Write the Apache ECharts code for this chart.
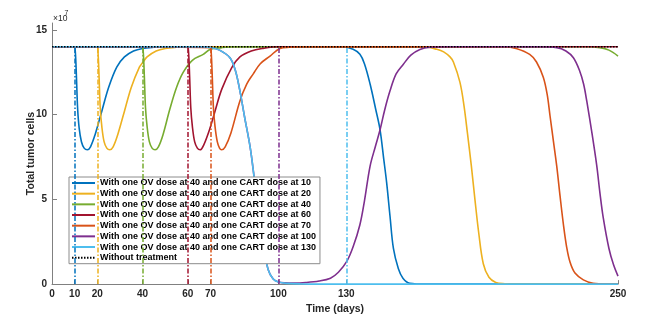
<!DOCTYPE html>
<html>
<head>
<meta charset="utf-8">
<script src="https://cdn.jsdelivr.net/npm/echarts@6/dist/echarts.min.js"></script>
<style>
  html, body { margin: 0; padding: 0; background: #fff; }
  #chart { width: 654px; height: 320px; }
</style>
</head>
<body>
<div id="chart"></div>
<script>
// values in units of 1e7 cells, x in days
var doseDays = [10, 20, 40, 60, 70, 100, 130]
var xTicks = [0, 10, 20, 40, 60, 70, 100, 130, 250]
var yTicks = [0, 5, 10, 15]

var cart10 = [[0, 14], [9.8, 14], [10.3, 13.7], [10.8, 12.2], [11.3, 10.4], [12, 9.2], [13, 8.4], [14.2, 8.02], [15.6, 7.92], [17, 8.1], [19, 8.8], [22, 10.2], [25, 11.6], [28.6, 12.8], [32, 13.4], [36, 13.75], [40, 13.9], [45, 13.97], [50, 14], [128, 14], [133, 13.85], [136, 13.55], [138, 13.0], [140.5, 11.8], [143, 10.3], [144.9, 9.1], [146.5, 7.4], [147.8, 6.0], [149.3, 4.0], [150.8, 2.1], [153, 0.9], [155, 0.35], [158, 0.05], [165, 0], [250, 0]]
var cart20 = [[0, 14], [19.8, 14], [20.3, 13.7], [20.8, 12.2], [21.3, 10.4], [22, 9.3], [23, 8.4], [24.2, 8.02], [25.5, 7.92], [27, 8.1], [29, 8.8], [32, 10.2], [35, 11.6], [38.6, 12.8], [40, 13.05], [42, 13.4], [46, 13.75], [50, 13.9], [55, 13.97], [60, 14], [164, 14], [170, 13.85], [173, 13.7], [175.8, 13.4], [177.3, 13.1], [180.2, 11.9], [182, 10.5], [183.5, 8.9], [185.2, 7.0], [186.8, 5.0], [188.5, 3.0], [190.5, 1.2], [193, 0.4], [196, 0.1], [200, 0.02], [205, 0], [250, 0]]
var cart40 = [[0, 14], [39.8, 14], [40.3, 13.7], [40.8, 12.2], [41.3, 10.4], [42, 9.3], [43, 8.4], [44.2, 8.02], [45.5, 7.92], [47, 8.1], [49, 8.8], [52, 10.3], [55, 11.6], [58, 12.5], [62, 13.2], [66.8, 13.55], [70, 13.85], [75, 13.95], [80, 14], [236, 14], [242, 13.95], [246, 13.8], [250, 13.45]]
var cart60 = [[0, 14], [59.8, 14], [60.3, 13.7], [60.8, 12.2], [61.3, 10.4], [62, 9.3], [63, 8.4], [64.2, 8.02], [65.4, 7.92], [67, 8.2], [69.8, 9.2], [72, 10.2], [75, 11.5], [79.4, 12.77], [83, 13.4], [88, 13.75], [93, 13.9], [100, 14], [250, 14]]
var cart70 = [[0, 14], [69.9, 13.95], [70.3, 13.7], [70.8, 12.2], [71.3, 10.4], [72, 9.3], [73, 8.4], [74, 8.02], [74.9, 7.92], [76.5, 8.1], [79, 8.9], [83, 10.8], [86, 11.8], [88.9, 12.4], [92, 13.0], [96.3, 13.45], [100.7, 13.9], [105, 13.97], [110, 14], [200, 14], [205, 13.9], [211, 13.55], [214, 13.1], [217, 12.2], [218.7, 11.2], [220, 9.9], [221.5, 8.4], [222.9, 7.0], [224.4, 5.2], [225.9, 3.5], [227.3, 2.2], [228.8, 1.3], [231, 0.65], [234.7, 0.25], [239, 0.05], [245, 0], [250, 0]]
var cart100 = [[0, 14], [66, 14], [70, 13.95], [74, 13.8], [78.6, 13.35], [81, 12.6], [83, 11.4], [85, 9.9], [87.5, 8.1], [89, 6.6], [91, 4.3], [93, 2.4], [95.5, 0.85], [97.7, 0.3], [100, 0.12], [103, 0.07], [107, 0.06], [112, 0.09], [118, 0.18], [123, 0.35], [126.5, 0.7], [130.2, 1.34], [133, 2.2], [136, 3.5], [138, 4.9], [140.5, 6.96], [142.8, 8.1], [144.9, 9.1], [147, 10.3], [149.3, 11.4], [152, 12.4], [155.2, 12.97], [158.5, 13.5], [162.5, 13.84], [167, 13.97], [175, 14], [215, 14], [223, 13.95], [227, 13.75], [230.3, 13.35], [233, 12.6], [234.8, 11.8], [236.2, 10.8], [238.5, 8.9], [240.6, 7.0], [242, 5.4], [243.5, 3.9], [246, 2.1], [248, 1.15], [250, 0.47]]
var cart130 = [[0, 14], [66, 14], [70, 13.95], [74, 13.8], [78.6, 13.35], [81, 12.6], [83, 11.4], [85, 9.9], [87.5, 8.1], [89, 6.6], [91, 4.3], [93, 2.4], [95.5, 0.85], [97.7, 0.3], [100, 0.12], [104, 0.04], [110, 0.01], [120, 0], [250, 0]]
var noTreatment = [[0, 14], [250, 14]]

var curves = [cart10, cart20, cart40, cart60, cart70, cart100, cart130]
var colors = ['#0072BD', '#EDB120', '#77AC30', '#A2142F', '#D95319', '#7E2F8E', '#4DBEEE']
var fontFam = 'Liberation Sans, Arial, sans-serif'

var series = []
curves.forEach(function (d, i) {
  series.push({
    name: 'With one OV dose at 40 and one CART dose at ' + doseDays[i],
    type: 'line',
    data: d,
    smooth: 0.35,
    symbol: 'none',
    color: colors[i],
    lineStyle: { width: 1.6 },
    markLine: {
      silent: true,
      symbol: 'none',
      label: { show: false },
      lineStyle: { color: colors[i], width: 1.5, type: [5, 2, 1.5, 2] },
      data: [[{ coord: [doseDays[i], 0] }, { coord: [doseDays[i], 14] }]]
    }
  })
})
series.push({
  name: 'Without treatment',
  type: 'line',
  data: noTreatment,
  symbol: 'none',
  color: '#000',
  lineStyle: { width: 1.5, type: [1.5, 1.5] }
})

var myChart = echarts.init(document.getElementById('chart'))
myChart.setOption({
  animation: false,
  grid: { left: 52, right: 36, top: 23, bottom: 32 },
  legend: {
    left: 69,
    top: 177,
    orient: 'vertical',
    itemWidth: 23,
    itemHeight: 10,
    itemGap: 0.67,
    itemTextGap: 2,
    padding: [1, 4, 1, 2],
    backgroundColor: '#fff',
    borderColor: '#8c8c8c',
    borderWidth: 1,
    borderRadius: 0,
    itemStyle: { opacity: 0 },
    textStyle: { fontFamily: fontFam, fontWeight: 'bold', fontSize: 9, lineHeight: 10, color: '#000' }
  },
  xAxis: {
    type: 'value',
    min: 0,
    max: 250,
    name: 'Time (days)',
    nameLocation: 'middle',
    nameGap: 17,
    nameTextStyle: { fontFamily: fontFam, fontWeight: 'bold', fontSize: 10.5, color: '#262626' },
    axisLine: { lineStyle: { color: '#808080', width: 1 } },
    axisTick: { inside: true, length: 4, customValues: xTicks, lineStyle: { color: '#808080' } },
    axisLabel: { customValues: xTicks, margin: 5, fontFamily: fontFam, fontWeight: 'bold', fontSize: 10, color: '#262626' },
    splitLine: { show: false }
  },
  yAxis: {
    type: 'value',
    min: 0,
    max: 15.4,
    name: 'Total tumor cells',
    nameLocation: 'middle',
    nameGap: 15,
    nameMoveOverlap: false,
    nameTextStyle: { fontFamily: fontFam, fontWeight: 'bold', fontSize: 10.5, color: '#262626' },
    axisLine: { show: true, lineStyle: { color: '#808080', width: 1 } },
    axisTick: { show: true, inside: true, length: 5, customValues: yTicks, lineStyle: { color: '#808080' } },
    axisLabel: { customValues: yTicks, margin: 5, fontFamily: fontFam, fontWeight: 'bold', fontSize: 10, color: '#262626' },
    splitLine: { show: false }
  },
  graphic: [
    { type: 'text', left: 53, top: 14, style: { text: '\u00d710', fontFamily: fontFam, fontSize: 8.5, fill: '#262626' } },
    { type: 'text', left: 64.5, top: 10, style: { text: '7', fontFamily: fontFam, fontSize: 7, fill: '#262626' } }
  ],
  series: series
})
</script>
</body>
</html>
